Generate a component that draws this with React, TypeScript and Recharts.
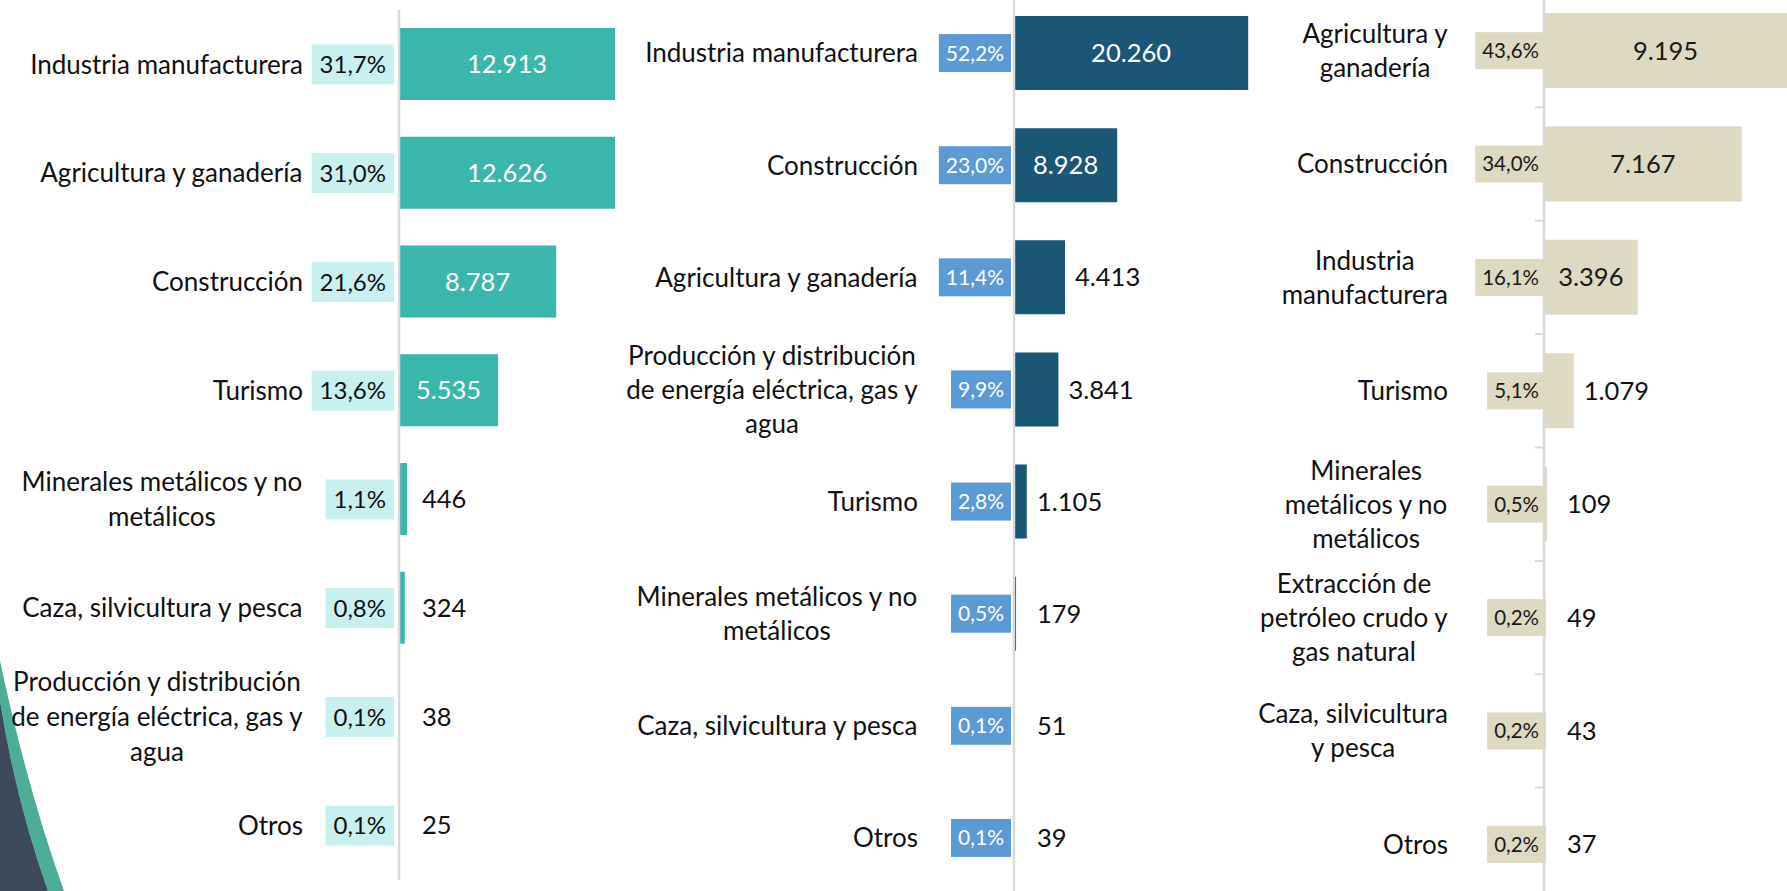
import React from "react";
import { Bar, BarChart, LabelList, XAxis, YAxis } from "recharts";

// Three ranked horizontal bar panels (valores y participación por sector).

const FONT = "Lato, 'Open Sans', sans-serif";

const p1Categories = [
  "Industria manufacturera",
  "Agricultura y ganadería",
  "Construcción",
  "Turismo",
  "Minerales metálicos y no metálicos",
  "Caza, silvicultura y pesca",
  "Producción y distribución de energía eléctrica, gas y agua",
  "Otros",
];
const p1Values = [12913, 12626, 8787, 5535, 446, 324, 38, 25];
const p1Shares = [31.7, 31.0, 21.6, 13.6, 1.1, 0.8, 0.1, 0.1];

const p2Categories = [
  "Industria manufacturera",
  "Construcción",
  "Agricultura y ganadería",
  "Producción y distribución de energía eléctrica, gas y agua",
  "Turismo",
  "Minerales metálicos y no metálicos",
  "Caza, silvicultura y pesca",
  "Otros",
];
const p2Values = [20260, 8928, 4413, 3841, 1105, 179, 51, 39];
const p2Shares = [52.2, 23.0, 11.4, 9.9, 2.8, 0.5, 0.1, 0.1];

const p3Categories = [
  "Agricultura y ganadería",
  "Construcción",
  "Industria manufacturera",
  "Turismo",
  "Minerales metálicos y no metálicos",
  "Extracción de petróleo crudo y gas natural",
  "Caza, silvicultura y pesca",
  "Otros",
];
const p3Values = [9195, 7167, 3396, 1079, 109, 49, 43, 37];
const p3Shares = [43.6, 34.0, 16.1, 5.1, 0.5, 0.2, 0.2, 0.2];

type PanelCfg = {
  left: number;
  top: number;
  width: number;
  height: number;
  axisWidth: number;
  domainMax: number;
  barSize: number;
  barColor: string;
  boxColor: string;
  boxTextColor: string;
  insideTextColor: string;
  pctFont: number;
  labelWidth: number;
  lineHeight: number;
  boxPad: number;
  boxHeight: number;
  boxRight: number;
  ticks: boolean;
};

const CAT_FONT = 26;
const VAL_FONT = 25.5;
const LABEL_GAP = 96;

let measureCtx: CanvasRenderingContext2D | null = null;
function measureText(text: string, size: number) {
  if (!measureCtx) measureCtx = document.createElement("canvas").getContext("2d");
  if (!measureCtx) return text.length * size * 0.5;
  measureCtx.font = `${size}px Lato`;
  return measureCtx.measureText(text).width;
}

function wrapText(text: string, maxWidth: number, size: number) {
  const words = text.split(" ");
  const lines: string[] = [];
  let cur = "";
  for (const w of words) {
    const next = cur ? cur + " " + w : w;
    if (cur && measureText(next, size) > maxWidth) {
      lines.push(cur);
      cur = w;
    } else {
      cur = next;
    }
  }
  if (cur) lines.push(cur);
  return lines;
}

const formatValue = (v: number) =>
  String(v).replace(/\B(?=(\d{3})+(?!\d))/g, ".");
const formatShare = (s: number) => s.toFixed(1).replace(".", ",") + "%";

function makeTick(cfg: PanelCfg, shares: number[], count: number) {
  return (props: any) => {
    const { y, payload } = props;
    const index = payload?.index ?? props.index ?? 0;
    const axisX = cfg.axisWidth;
    const band = cfg.height / count;
    const lines = wrapText(String(payload.value), cfg.labelWidth, CAT_FONT);
    const block = Math.max(...lines.map((l) => measureText(l, CAT_FONT)));
    const cx = axisX - LABEL_GAP - block / 2;
    const y0 = y - ((lines.length - 1) * cfg.lineHeight) / 2;
    const pct = formatShare(shares[index]);
    const boxW = measureText(pct, cfg.pctFont) + cfg.boxPad * 2;
    const boxRight = axisX + cfg.boxRight;
    return (
      <g>
        {cfg.ticks && (
          <line x1={axisX - 9} x2={axisX} y1={y - band / 2} y2={y - band / 2} stroke="#D9D9D9" strokeWidth={2} />
        )}
        {cfg.ticks && index === count - 1 && (
          <line x1={axisX - 9} x2={axisX} y1={y + band / 2} y2={y + band / 2} stroke="#D9D9D9" strokeWidth={2} />
        )}
        <rect x={boxRight - boxW} y={y - cfg.boxHeight / 2} width={boxW} height={cfg.boxHeight} fill={cfg.boxColor} />
        <text
          x={boxRight - cfg.boxPad}
          y={y}
          dy="0.36em"
          textAnchor="end"
          fontFamily={FONT}
          fontSize={cfg.pctFont}
          fill={cfg.boxTextColor}
        >
          {pct}
        </text>
        {lines.map((l, i) => (
          <text
            key={i}
            x={cx}
            y={y0 + i * cfg.lineHeight}
            dy="0.36em"
            textAnchor="middle"
            fontFamily={FONT}
            fontSize={CAT_FONT}
            fill="#111111"
          >
            {l}
          </text>
        ))}
      </g>
    );
  };
}

function makeValueLabel(cfg: PanelCfg) {
  return (props: any) => {
    const vb = props.viewBox ?? props;
    const x = Number(vb.x ?? props.x);
    const y = Number(vb.y ?? props.y);
    const w = Number(vb.width ?? props.width);
    const h = Number(vb.height ?? props.height);
    const visible = Math.min(w, cfg.width - x);
    const inside = visible >= 70;
    const tx = inside ? x + visible / 2 : x + Math.max(w + 10, 23);
    return (
      <text
        x={tx}
        y={y + h / 2}
        dy="0.36em"
        textAnchor={inside ? "middle" : "start"}
        fontFamily={FONT}
        fontSize={VAL_FONT}
        fill={inside ? cfg.insideTextColor : "#111111"}
      >
        {formatValue(Number(props.value))}
      </text>
    );
  };
}

function Panel({
  cfg,
  categories,
  values,
  shares,
}: {
  cfg: PanelCfg;
  categories: string[];
  values: number[];
  shares: number[];
}) {
  const data = categories.map((name, i) => ({ name, value: values[i] }));
  return (
    <div style={{ position: "absolute", left: cfg.left, top: cfg.top }}>
      <BarChart
        width={cfg.width}
        height={cfg.height}
        data={data}
        layout="vertical"
        margin={{ top: 0, right: 0, bottom: 0, left: 0 }}
      >
        <XAxis type="number" hide domain={[0, cfg.domainMax]} allowDataOverflow />
        <YAxis
          type="category"
          dataKey="name"
          width={cfg.axisWidth}
          interval={0}
          tickLine={false}
          tickSize={0}
          tickMargin={0}
          axisLine={{ stroke: "#D9D9D9", strokeWidth: 2.5 }}
          tick={makeTick(cfg, shares, categories.length)}
        />
        <Bar dataKey="value" fill={cfg.barColor} barSize={cfg.barSize} isAnimationActive={false}>
          <LabelList dataKey="value" content={makeValueLabel(cfg)} />
        </Bar>
      </BarChart>
    </div>
  );
}

const panel1: PanelCfg = {
  left: 0,
  top: 10,
  width: 615,
  height: 870,
  axisWidth: 399,
  domainMax: 12070,
  barSize: 72,
  barColor: "#3BB6AA",
  boxColor: "#C8F0EF",
  boxTextColor: "#111111",
  insideTextColor: "#FFFFFF",
  pctFont: 24,
  labelWidth: 305,
  lineHeight: 35,
  boxPad: 8,
  boxHeight: 40,
  boxRight: -5,
  ticks: false,
};

const panel2: PanelCfg = {
  left: 600,
  top: -2.6,
  width: 700,
  height: 897,
  axisWidth: 414,
  domainMax: 24740,
  barSize: 74,
  barColor: "#1A5675",
  boxColor: "#5B9BD5",
  boxTextColor: "#FFFFFF",
  insideTextColor: "#FFFFFF",
  pctFont: 21,
  labelWidth: 305,
  lineHeight: 34,
  boxPad: 7,
  boxHeight: 38,
  boxRight: -3,
  ticks: false,
};

const panel3: PanelCfg = {
  left: 1220,
  top: -5.9,
  width: 567,
  height: 907,
  axisWidth: 324,
  domainMax: 8804,
  barSize: 75,
  barColor: "#DDD9C3",
  boxColor: "#DDD9C3",
  boxTextColor: "#1A1A1A",
  insideTextColor: "#1A1A1A",
  pctFont: 20.5,
  labelWidth: 200,
  lineHeight: 34,
  boxPad: 7,
  boxHeight: 37,
  boxRight: 2,
  ticks: true,
};

export default function App() {
  return (
    <div
      style={{
        position: "absolute",
        left: 0,
        top: 0,
        width: 1787,
        height: 891,
        overflow: "hidden",
        background: "#FFFFFF",
      }}
    >
      {/* slide decoration, bottom-left corner */}
      <svg width={120} height={260} style={{ position: "absolute", left: 0, top: 631 }}>
        <path d="M0,30 Q28,160 64,260 L48,260 Q16,170 0,70 Z" fill="#4DAE97" />
        <path d="M0,70 Q16,170 48,260 L0,260 Z" fill="#3D4A5C" />
      </svg>
      <Panel cfg={panel1} categories={p1Categories} values={p1Values} shares={p1Shares} />
      <Panel cfg={panel2} categories={p2Categories} values={p2Values} shares={p2Shares} />
      <Panel cfg={panel3} categories={p3Categories} values={p3Values} shares={p3Shares} />
    </div>
  );
}
